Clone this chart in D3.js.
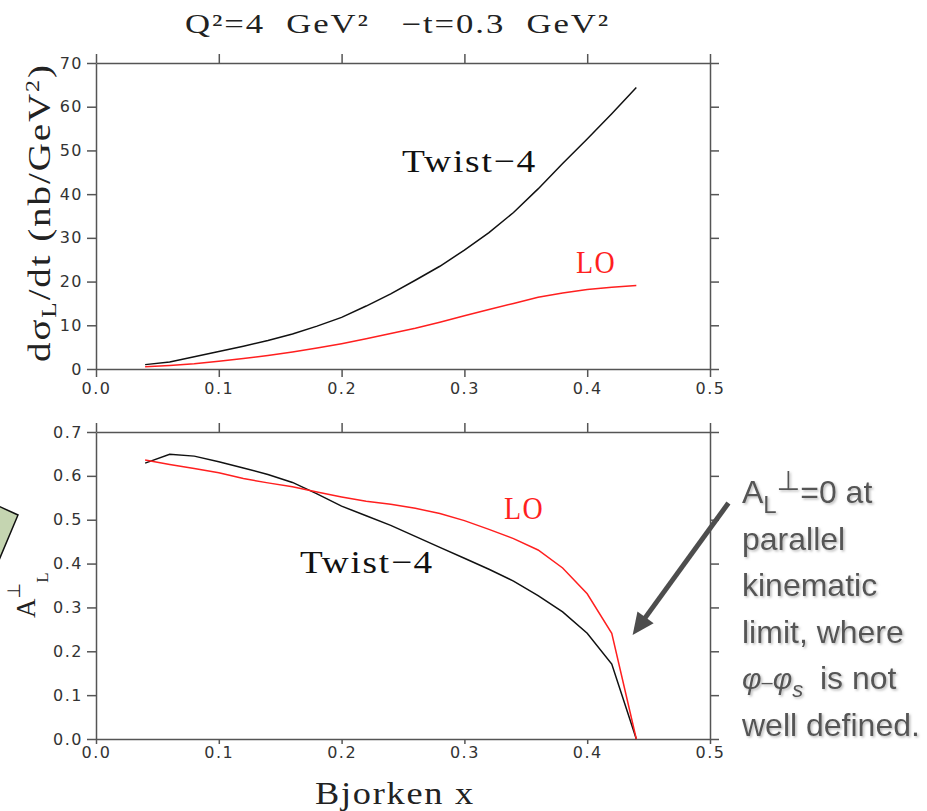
<!DOCTYPE html>
<html lang="en">
<head>
    <meta charset="utf-8">
    <title>Q2=4 GeV2, -t=0.3 GeV2</title>
    <style>
        body {
            margin: 0;
            background: #fff;
        }
        .axis path, .axis line {
            stroke: #555;
            stroke-width: 1.5px;
        }
        .tick text {
            font-family: "DejaVu Sans", sans-serif;
            font-size: 16px;
            fill: #333;
            letter-spacing: 1.5px;
        }
        .serif {
            font-family: "Liberation Serif", serif;
        }
        .line-tw {
            fill: none;
            stroke: #111;
            stroke-width: 1.5px;
        }
        .line-lo {
            fill: none;
            stroke: #ff1f1f;
            stroke-width: 1.5px;
        }
        .note {
            font-family: "Liberation Sans", Arial, sans-serif;
            font-size: 32px;
            fill: #555;
        }
    </style>
    <script src="https://cdn.jsdelivr.net/npm/d3@7"></script>
</head>
<body>
<div id="chart"></div>
<script>
// Bjorken x of the calculated points
var xVals = [0.04, 0.06, 0.08, 0.10, 0.12, 0.14, 0.16, 0.18, 0.20, 0.22, 0.24,
             0.26, 0.28, 0.30, 0.32, 0.34, 0.36, 0.38, 0.40, 0.42, 0.44];

// dsigma_L/dt (nb/GeV^2)
var sigTwist4 = [1.0, 1.6, 2.8, 4.0, 5.2, 6.5, 8.0, 9.8, 11.8, 14.4, 17.2,
                 20.3, 23.5, 27.2, 31.2, 35.8, 41.2, 47.0, 52.6, 58.4, 64.4];
var sigLO = [0.5, 0.8, 1.2, 1.8, 2.4, 3.1, 3.9, 4.8, 5.8, 6.9, 8.1,
             9.3, 10.7, 12.2, 13.6, 15.0, 16.4, 17.4, 18.2, 18.7, 19.1];

// A_L perp
var asymTwist4 = [0.629, 0.649, 0.645, 0.632, 0.618, 0.603, 0.585, 0.559, 0.531, 0.509, 0.487,
                  0.462, 0.437, 0.412, 0.387, 0.360, 0.327, 0.290, 0.241, 0.171, 0.0];
var asymLO = [0.636, 0.626, 0.617, 0.607, 0.594, 0.584, 0.575, 0.563, 0.552, 0.542, 0.535,
              0.526, 0.514, 0.498, 0.478, 0.457, 0.431, 0.390, 0.331, 0.241, 0.0];

var xTicks = [0, 0.1, 0.2, 0.3, 0.4, 0.5];
var sigTicks = [0, 10, 20, 30, 40, 50, 60, 70];
var asymTicks = [0, 0.1, 0.2, 0.3, 0.4, 0.5, 0.6, 0.7];

var noteLines = ["parallel", "kinematic", "limit, where"];

var svg = d3.select("#chart").append("svg")
    .attr("width", 927)
    .attr("height", 811);

// scales
var x = d3.scaleLinear().domain([0, 0.5]).range([96, 710]);
var ySig = d3.scaleLinear().domain([0, 70]).range([369, 63]);
var yAsym = d3.scaleLinear().domain([0, 0.7]).range([739, 432]);

// box of axes, ticks outwards on all four sides
function frame(y, yTicks, yFmt, botTick, botPad) {
    svg.append("g")
        .attr("class", "axis")
        .attr("transform", "translate(0," + y.range()[0] + ")")
        .call(d3.axisBottom(x).tickValues(xTicks).tickFormat(d3.format(".1f"))
            .tickSize(botTick).tickSizeOuter(0).tickPadding(botPad));
    svg.append("g")
        .attr("class", "axis")
        .attr("transform", "translate(0," + y.range()[1] + ")")
        .call(d3.axisTop(x).tickValues(xTicks).tickFormat("").tickSize(9).tickSizeOuter(0));
    svg.append("g")
        .attr("class", "axis")
        .attr("transform", "translate(" + x.range()[0] + ",0)")
        .call(d3.axisLeft(y).tickValues(yTicks).tickFormat(yFmt)
            .tickSize(9).tickSizeOuter(0).tickPadding(4));
    svg.append("g")
        .attr("class", "axis")
        .attr("transform", "translate(" + x.range()[1] + ",0)")
        .call(d3.axisRight(y).tickValues(yTicks).tickFormat("").tickSize(9).tickSizeOuter(0));
}

frame(ySig, sigTicks, d3.format("d"), 8, 6);
frame(yAsym, asymTicks, d3.format(".1f"), 5, 3);

// curves
function curve(y, vals, cls) {
    var line = d3.line()
        .x(function(d, i) { return x(xVals[i]); })
        .y(function(d) { return y(d); });
    svg.append("path")
        .datum(vals)
        .attr("class", cls)
        .attr("d", line);
}
curve(ySig, sigTwist4, "line-tw");
curve(ySig, sigLO, "line-lo");
curve(yAsym, asymTwist4, "line-tw");
curve(yAsym, asymLO, "line-lo");

// serif text stretched to the width it has in the plot
function stretched(px, py, txt, size, len, color) {
    return svg.append("text")
        .attr("class", "serif")
        .attr("x", px)
        .attr("y", py)
        .attr("textLength", len)
        .attr("lengthAdjust", "spacingAndGlyphs")
        .style("font-size", size + "px")
        .style("letter-spacing", "1.5px")
        .style("white-space", "pre")
        .style("fill", color)
        .text(txt);
}

// curve labels
stretched(x(0.2492), ySig(45.07), "Twist\u22124", 32, 135, "#111");
stretched(x(0.3909), ySig(21.96), "LO", 31, 40, "#ff1f1f");
stretched(x(0.1661), yAsym(0.3785), "Twist\u22124", 32, 134, "#111");
stretched(x(0.3322), yAsym(0.5016), "LO", 31, 40, "#ff1f1f");

// title and x axis title
stretched(185, 33, "Q\u00b2=4  GeV\u00b2   \u2212t=0.3  GeV\u00b2", 27, 425, "#222");
stretched(315, 804, "Bjorken x", 31, 160, "#222");

// y axis title, top panel
var yl = svg.append("text")
    .attr("class", "serif")
    .attr("transform", "translate(50,362) rotate(-90) scale(1.26,1)")
    .style("font-size", "31px")
    .style("letter-spacing", "1.5px")
    .style("white-space", "pre")
    .style("fill", "#222");
yl.append("tspan").text("d\u03c3");
yl.append("tspan").attr("dy", 6).style("font-size", "20px").text("L");
yl.append("tspan").attr("dy", -6).text("/dt (nb/GeV");
yl.append("tspan").attr("dy", -11).style("font-size", "19px").text("2");
yl.append("tspan").attr("dy", 11).text(")");

// y axis title, bottom panel
var al = svg.append("text")
    .attr("class", "serif")
    .attr("transform", "translate(35,618) rotate(-90)")
    .style("font-size", "27px")
    .style("fill", "#222");
al.append("tspan").text("A");
al.append("tspan").attr("dy", -15).style("font-size", "18px")
    .style("font-family", "DejaVu Sans").text("\u22a5");
al.append("tspan").attr("dy", 28).style("font-size", "17px").text("L");

// green callout box, cut by the left edge
var boxPts = [[-6, 504], [18, 515], [-6, 572]];
svg.append("path")
    .attr("d", d3.line()(boxPts) + "Z")
    .style("fill", "#c5d5b1")
    .style("stroke", "#111")
    .style("stroke-width", 1.5);

// arrow pointing at the x=0.44 end point
var arrowFrom = [x(0.515), yAsym(0.538)];
var arrowTo = [x(0.437), yAsym(0.237)];
var dx = arrowTo[0] - arrowFrom[0], dy = arrowTo[1] - arrowFrom[1];
var len = Math.sqrt(dx * dx + dy * dy);
var ux = dx / len, uy = dy / len;
var headL = 22, headW = 10;
var base = [arrowTo[0] - ux * headL, arrowTo[1] - uy * headL];
svg.append("line")
    .attr("x1", arrowFrom[0]).attr("y1", arrowFrom[1])
    .attr("x2", base[0] + ux * 2).attr("y2", base[1] + uy * 2)
    .style("stroke", "#4d4d4d")
    .style("stroke-width", 5);
svg.append("path")
    .attr("d", d3.line()([
        arrowTo,
        [base[0] - uy * headW, base[1] + ux * headW],
        [base[0] + uy * headW, base[1] - ux * headW]
    ]) + "Z")
    .style("fill", "#4d4d4d");

// annotation text
var defs = svg.append("defs");
defs.append("filter")
    .attr("id", "shadow")
    .append("feDropShadow")
    .attr("dx", 1.5).attr("dy", 1.5)
    .attr("stdDeviation", 0.8)
    .attr("flood-color", "#bbb");

var note = svg.append("g").attr("filter", "url(#shadow)");
var noteX = 742, lineH = 46.6, noteY0 = 503;

var l1 = note.append("text").attr("class", "note").attr("x", noteX).attr("y", noteY0);
l1.append("tspan").text("A");
l1.append("tspan").attr("dy", 10).style("font-size", "24px").text("L");
l1.append("tspan").attr("dy", -23).style("font-size", "27px")
    .style("font-family", "DejaVu Sans").text("\u22a5");
l1.append("tspan").attr("dy", 13).text("=0 at");

note.selectAll("text.mid")
    .data(noteLines)
    .enter().append("text")
    .attr("class", "note mid")
    .attr("x", noteX)
    .attr("y", function(d, i) { return noteY0 + lineH * (i + 1); })
    .text(function(d) { return d; });

var l5 = note.append("text").attr("class", "note").attr("x", noteX).attr("y", noteY0 + lineH * 4);
l5.append("tspan").style("font-style", "italic").style("font-size", "30px").text("\u03c6");
l5.append("tspan").style("font-size", "20px").text("\u2013");
l5.append("tspan").style("font-style", "italic").style("font-size", "30px").text("\u03c6");
l5.append("tspan").attr("dy", 8)
    .style("font-style", "italic").style("font-size", "22px").text("s");
l5.append("tspan").attr("x", noteX + 78).attr("dy", -8).text("is not");

note.append("text")
    .attr("class", "note")
    .attr("x", noteX)
    .attr("y", noteY0 + lineH * 5)
    .text("well defined.");
</script>
</body>
</html>
